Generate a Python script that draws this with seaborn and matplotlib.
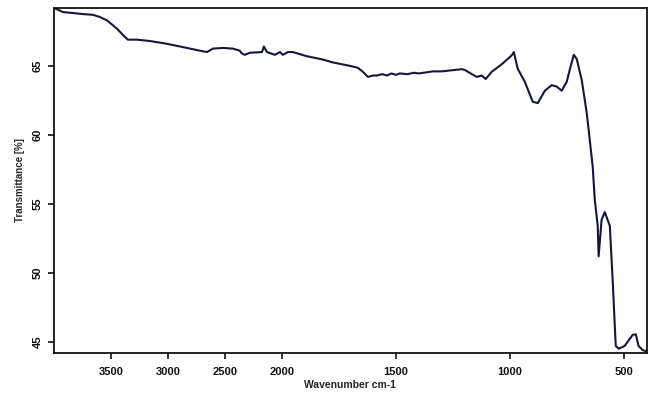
import numpy as np
import pandas as pd
import matplotlib
matplotlib.use("Agg")
import matplotlib.pyplot as plt
import seaborn as sns

# FTIR spectrum: wavenumber (cm-1) and transmittance (%)
wavenumber = [4000, 3921, 3860, 3798, 3740, 3658, 3600, 3535, 3448, 3378,
              3351, 3272, 3158, 3009, 2834, 2720, 2658, 2606, 2518, 2430,
              2370, 2352, 2326, 2282, 2176, 2158, 2132, 2062, 2018, 1996,
              1974, 1952, 1891, 1821, 1777, 1702, 1667, 1645, 1623, 1600,
              1584, 1560, 1540, 1520, 1500, 1483, 1450, 1420, 1400, 1338,
              1300, 1277, 1211, 1198, 1146, 1124, 1106, 1080, 1032, 992,
              983, 966, 935, 900, 878, 847, 817, 795, 773, 751,
              738, 720, 707, 685, 663, 637, 628, 615, 611, 598,
              584, 562, 549, 536, 523, 497, 475, 462, 448, 436,
              418, 400]
transmittance = [69.2, 68.9, 68.85, 68.8, 68.75, 68.7, 68.55, 68.3, 67.7, 67.1,
                 66.9, 66.9, 66.8, 66.6, 66.3, 66.1, 66.0, 66.25, 66.3, 66.25,
                 66.1, 65.9, 65.8, 65.95, 66.0, 66.4, 66.0, 65.8, 66.0, 65.8,
                 66.0, 66.0, 65.7, 65.46, 65.25, 65.0, 64.86, 64.57, 64.2, 64.3,
                 64.3, 64.4, 64.3, 64.45, 64.35, 64.45, 64.4, 64.5, 64.45, 64.6,
                 64.6, 64.64, 64.76, 64.7, 64.2, 64.3, 64.05, 64.57, 65.17, 65.77,
                 66.0, 64.8, 63.85, 62.4, 62.3, 63.2, 63.6, 63.5, 63.2, 63.85,
                 64.7, 65.8, 65.5, 63.96, 61.56, 57.7, 55.3, 53.4, 51.2, 53.85,
                 54.4, 53.4, 49.3, 44.7, 44.5, 44.7, 45.2, 45.5, 45.55, 44.7,
                 44.4, 44.3]

x_ticks = [3500, 3000, 2500, 2000, 1500, 1000, 500]
y_ticks = [45, 50, 55, 60, 65]

df = pd.DataFrame({"wn": wavenumber, "T": transmittance})

sns.set_theme(style="ticks")
plt.rcParams["font.family"] = ["Liberation Sans", "DejaVu Sans"]

fig = plt.figure(figsize=(6.5, 3.96), dpi=100)
ax = fig.add_axes([0.083, 0.109, 0.912, 0.871])

sns.lineplot(data=df, x="wn", y="T", ax=ax, color="#16163c",
             linewidth=1.5, estimator=None, sort=False)


# compressed scale above 2000 cm-1 (half the resolution of the fingerprint region)
def fwd(x):
    x = np.asarray(x, dtype=float)
    return np.where(x <= 2000, x, 2000 + (x - 2000) / 2)


def inv(t):
    t = np.asarray(t, dtype=float)
    return np.where(t <= 2000, t, 2000 + 2 * (t - 2000))


ax.set_xscale("function", functions=(fwd, inv))
ax.set_xlim(4000, 400)
ax.set_ylim(44.2, 69.2)
ax.set_xticks(x_ticks)
ax.set_xticklabels([str(v) for v in x_ticks])
ax.set_yticks(y_ticks)
ax.set_yticklabels([str(v) for v in y_ticks], rotation=90, va="center")
ax.minorticks_off()

for s in ax.spines.values():
    s.set_linewidth(1.3)
    s.set_color("#111111")
ax.tick_params(axis="both", length=4, width=1.2, color="#111111",
               labelsize=8, labelcolor="#111111")
ax.tick_params(axis="x", pad=6)
ax.tick_params(axis="y", pad=4)
for lab in ax.get_xticklabels() + ax.get_yticklabels():
    lab.set_fontweight("bold")

ax.set_xlabel("Wavenumber cm-1", fontsize=7.5, fontweight="bold", labelpad=2)
ax.set_ylabel("Transmittance [%]", fontsize=7, fontweight="bold", labelpad=6)

fig.savefig("out.png", dpi=100, facecolor="white")
